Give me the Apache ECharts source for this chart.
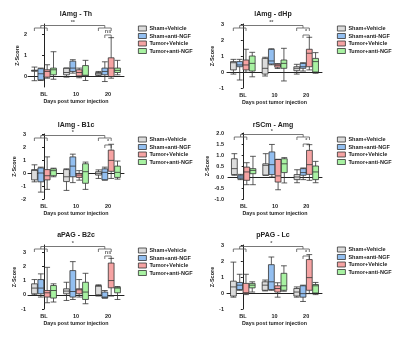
<!DOCTYPE html>
<html>
<head>
<meta charset="utf-8">
<script src="https://cdn.jsdelivr.net/npm/echarts@6/dist/echarts.min.js"></script>
<style>
  html, body { margin: 0; padding: 0; background: #fff; }
  #chart { width: 400px; height: 337px; }
</style>
</head>
<body>
<div id="chart"></div>
<script>
// groups and x categories
var groups = ['Sham+Vehicle', 'Sham+anti-NGF', 'Tumor+Vehicle', 'Tumor+anti-NGF'];
var days = ['BL', '10', '20'];

// one array per region: [group][day] = [min, Q1, median, Q3, max]
var lAmgTh = [
    [[-0.2, 0.25, 0.28, 0.3, 0.45], [-0.03, 0.08, 0.19, 0.4, 0.4], [0.03, 0.06, 0.13, 0.19, 0.24]],
    [[-0.19, -0.16, 0.13, 0.37, 0.4], [0.16, 0.24, 0.4, 0.73, 0.8], [-0.24, 0.08, 0.24, 0.4, 0.7]],
    [[-0.08, -0.03, 0.24, 0.32, 0.56], [-0.06, 0.03, 0.19, 0.32, 0.4], [-0.08, 0, 0.4, 0.89, 1.85]],
    [[-0.13, 0.08, 0.32, 0.4, 1.18], [-0.19, 0.03, 0.06, 0.52, 0.77], [0.08, 0.19, 0.29, 0.4, 0.77]]
];
var lAmgDHp = [
    [[-0.13, 0.13, 0.58, 0.65, 0.79], [-0.25, -0.13, 0.23, 0.85, 0.92], [-0.13, 0.08, 0.23, 0.33, 0.48]],
    [[-0.5, 0.33, 0.44, 0.65, 0.79], [0.45, 0.5, 0.69, 1.42, 1.45], [0.06, 0.23, 0.33, 0.54, 0.58]],
    [[-0.02, 0.13, 0.44, 0.75, 1.42], [0.22, 0.3, 0.42, 0.5, 0.52], [0.13, 0.33, 1.17, 1.42, 2.17]],
    [[-0.3, 0.06, 0.54, 1.0, 1.23], [-0.56, 0.23, 0.54, 0.75, 1.48], [-0.08, 0, 0.65, 0.85, 1.21]]
];
var lAmgB1c = [
    [[-0.68, -0.53, 0.2, 0.26, 0.63], [-1.34, -0.66, -0.29, 0.26, 0.32], [-0.42, -0.16, -0.03, 0.1, 0.24]],
    [[-1.47, -0.68, 0, 0.39, 0.45], [-0.74, -0.29, 0.53, 1.24, 1.45], [-0.55, -0.53, 0.05, 0.32, 0.45]],
    [[-1.26, -0.53, -0.21, 0.26, 1.24], [-0.55, -0.34, -0.16, -0.03, 0.18], [-0.42, 0.13, 0.97, 1.76, 2.21]],
    [[-0.29, -0.21, 0.18, 0.32, 0.37], [-1.26, -0.79, 0.1, 0.71, 0.84], [-0.47, -0.34, 0.05, 0.53, 0.92]]
];
var rSCmAmg = [
    [[0.08, 0.11, 0.38, 0.83, 1.06], [0.08, 0.08, 0.53, 0.6, 1.06], [-0.26, -0.12, 0, 0.11, 0.33]],
    [[-0.12, -0.08, 0, 0.08, 0.12], [0, 0.11, 0.56, 1.14, 1.48], [-0.12, 0.08, 0.2, 0.38, 0.41]],
    [[-0.35, -0.15, 0.23, 0.45, 0.65], [-0.58, -0.23, 0.05, 0.8, 0.8], [-0.15, 0.12, 0.56, 1.21, 1.47]],
    [[-0.35, 0.15, 0.3, 0.38, 0.94], [-0.27, 0.2, 0.6, 0.83, 0.88], [-0.26, -0.12, 0.23, 0.5, 0.71]]
];
var aPAGB2c = [
    [[0, 0.07, 0.47, 0.77, 1.07], [-0.4, 0.07, 0.26, 0.42, 0.88], [-0.09, 0, 0.6, 0.65, 0.7]],
    [[-0.16, 0.07, 0.47, 1.07, 1.47], [-0.33, -0.16, 0.23, 1.7, 2.33], [-0.23, -0.23, -0.16, 0.19, 0.3]],
    [[-0.56, -0.16, 0.14, 0.3, 1.93], [-0.16, 0.07, 0.35, 0.42, 1.07], [-0.09, 0.49, 1.0, 2.23, 2.56]],
    [[-0.51, -0.23, 0.3, 0.65, 0.77], [-0.63, -0.33, 0.19, 0.88, 1.51], [-0.33, 0.14, 0.47, 0.53, 0.58]]
];
var pPAGLc = [
    [[-0.26, -0.19, 0.38, 0.74, 1.93], [0.13, 0.17, 0.49, 0.7, 0.81], [-0.26, -0.19, 0.06, 0.28, 0.38]],
    [[0.17, 0.21, 0.49, 0.66, 1.17], [0.17, 0.21, 0.7, 1.77, 2.25], [-0.53, -0.26, -0.04, 0.45, 0.49]],
    [[-0.1, -0.04, 0.02, 0.6, 1.17], [-0.26, 0.06, 0.28, 0.45, 0.64], [-0.04, 0.17, 0.96, 2.09, 2.4]],
    [[0.06, 0.32, 0.49, 0.6, 0.7], [0.11, 0.17, 0.45, 1.23, 1.7], [-0.1, 0, 0.45, 0.53, 0.66]]
];

var titles = ['lAmg - Th', 'lAmg - dHp', 'lAmg - B1c', 'rSCm - Amg', 'aPAG - B2c', 'pPAG - Lc'];
var panelData = [lAmgTh, lAmgDHp, lAmgB1c, rSCmAmg, aPAGB2c, pPAGLc];

// y axis ranges and tick labels
var yMin = [-0.5, -1, -2, -1, -1, -1];
var yMax = [2.5, 3, 3, 2, 3.5, 3];
var yTicks = [
    [0, 1, 2],
    [-1, 0, 1, 2, 3],
    [-2, -1, 0, 1, 2, 3],
    [-1, -0.5, 0, 0.5, 1, 1.5, 2],
    [-1, 0, 1, 2, 3],
    [-1, 0, 1, 2, 3]
];
// significance marks: BL vs 20 bracket, and within 20
var sigBig = ['**', '**', '*', '*', '*', '*'];
var sigSmall = ['ns', '*', '*', '*', 'ns', '*'];

var colors = ['#dcdcdc', '#93bff0', '#f6a3a3', '#a8f2a2'];
var ink = '#333';
var font = 'Liberation Sans, Arial, sans-serif';

// left panels: grid a bit wider than the axis line so groups spread like the original
var grids = [
    {left: 28, top: 24, width: 96, height: 63},
    {left: 227, top: 24, width: 95, height: 64},
    {left: 28, top: 134, width: 96, height: 65},
    {left: 228, top: 133, width: 94, height: 66},
    {left: 28, top: 245, width: 96, height: 64},
    {left: 227, top: 245, width: 95, height: 64}
];
var yOffset = [-2, 0, -1, 1, -1, 0];
var legendPos = [
    {left: 138, top: 25.5}, {left: 337, top: 25.5},
    {left: 138, top: 136.5}, {left: 337, top: 136.5},
    {left: 138, top: 247.5}, {left: 337, top: 246.5}
];
var titleX = [76, 273, 76, 273, 76, 273];
var titleY = [11, 11, 122, 122, 232, 232];

var option = {
    animation: false,
    textStyle: {fontFamily: font},
    title: [],
    legend: [],
    grid: grids,
    xAxis: [],
    yAxis: [],
    series: []
};

for (var p = 0; p < 6; p++) {
    option.title.push({
        text: titles[p],
        left: titleX[p],
        top: titleY[p],
        textAlign: 'center',
        padding: 0,
        textStyle: {fontSize: 7, fontWeight: 'bold', color: '#222', fontFamily: font}
    });
    option.legend.push({
        data: groups.map(function (name, i) {
            return {name: name, itemStyle: {color: colors[i], borderColor: ink, borderWidth: 0.8}};
        }),
        orient: 'vertical',
        left: legendPos[p].left,
        top: legendPos[p].top,
        padding: 0,
        icon: 'rect',
        itemWidth: 8,
        itemHeight: 5,
        itemGap: 1.5,
        selectedMode: false,
        textStyle: {fontSize: 5.5, fontWeight: 'bold', color: '#222', padding: [0, 0, 0, -2], fontFamily: font}
    });
    option.xAxis.push({
        type: 'category',
        gridIndex: p,
        data: days,
        name: 'Days post tumor injection',
        nameLocation: 'middle',
        nameGap: 12,
        nameTextStyle: {fontSize: 5.3, fontWeight: 'bold', color: '#222'},
        axisLine: {lineStyle: {color: '#222', width: 1}},
        axisTick: {alignWithLabel: true, length: 2, lineStyle: {color: '#222'}},
        axisLabel: {fontSize: 5.5, fontWeight: 'bold', color: '#222', margin: 4},
        splitLine: {show: false}
    });
    var ticks = yTicks[p];
    option.yAxis.push({
        type: 'value',
        gridIndex: p,
        min: yMin[p],
        max: yMax[p],
        offset: yOffset[p],
        name: 'Z-Score',
        nameLocation: 'middle',
        nameGap: p === 3 ? 14 : 9,
        nameTextStyle: {fontSize: 5.5, fontWeight: 'bold', color: '#222'},
        axisLine: {show: true, lineStyle: {color: '#222', width: 1}},
        axisTick: {show: true, length: 2, customValues: ticks, lineStyle: {color: '#222'}},
        axisLabel: {
            fontSize: 5.5, fontWeight: 'bold', color: '#222', margin: 3,
            customValues: ticks,
            formatter: p === 3 ? function (v) { return v.toFixed(1); } : function (v) { return String(v); }
        },
        splitLine: {show: false}
    });

    for (var g = 0; g < 4; g++) {
        option.series.push({
            name: groups[g],
            type: 'boxplot',
            xAxisIndex: p,
            yAxisIndex: p,
            boxWidth: [5.8, 5.8],
            itemStyle: {color: colors[g], borderColor: ink, borderWidth: 0.8},
            data: panelData[p][g]
        });
    }
}

// hidden value x axes so brackets can sit between boxes
var boxOffset = [-0.3, -0.1, 0.1, 0.3];
for (var q = 0; q < 6; q++) {
    option.xAxis.push({type: 'value', gridIndex: q, min: -0.5, max: 2.5, show: false});
    var range = yMax[q] - yMin[q];
    var h = grids[q].height;
    var yBig = yMax[q] - range * 1.5 / h;
    var yGrp = yMax[q] - range * 4 / h;
    var yDrop = yMax[q] - range * 7 / h;
    var ySm = yMax[q] - range * 11 / h;
    var ySmDrop = yMax[q] - range * 14 / h;
    var gl = boxOffset[0], gr = boxOffset[2], gm = (gl + gr) / 2;
    var lines = [
        [[gl, yDrop], [gl, yGrp], [gr, yGrp], [gr, yDrop]],
        [[2 + gl, yDrop], [2 + gl, yGrp], [2 + gr, yGrp], [2 + gr, yDrop]],
        [[gm, yGrp], [gm, yBig], [2 + gm, yBig], [2 + gm, yGrp]],
        [[2 + boxOffset[1], ySmDrop], [2 + boxOffset[1], ySm], [2 + boxOffset[2], ySm], [2 + boxOffset[2], ySmDrop]]
    ];
    option.series.push({
        type: 'lines',
        coordinateSystem: 'cartesian2d',
        xAxisIndex: 6 + q,
        yAxisIndex: q,
        polyline: true,
        silent: true,
        lineStyle: {color: '#555', width: 0.8, opacity: 1},
        data: lines.map(function (c) { return {coords: c}; })
    });
    option.series.push({
        type: 'scatter',
        xAxisIndex: 6 + q,
        yAxisIndex: q,
        silent: true,
        symbolSize: 0.1,
        itemStyle: {color: 'rgba(0,0,0,0)'},
        label: {
            show: true, position: 'top', distance: 0, formatter: '{b}',
            fontSize: 5.5, fontWeight: 'bold', color: '#333'
        },
        data: [
            {name: sigBig[q], value: [1 + gm, yBig]},
            {name: sigSmall[q], value: [2, ySm]}
        ]
    });
}

var myChart = echarts.init(document.getElementById('chart'));
myChart.setOption(option);
</script>
</body>
</html>
